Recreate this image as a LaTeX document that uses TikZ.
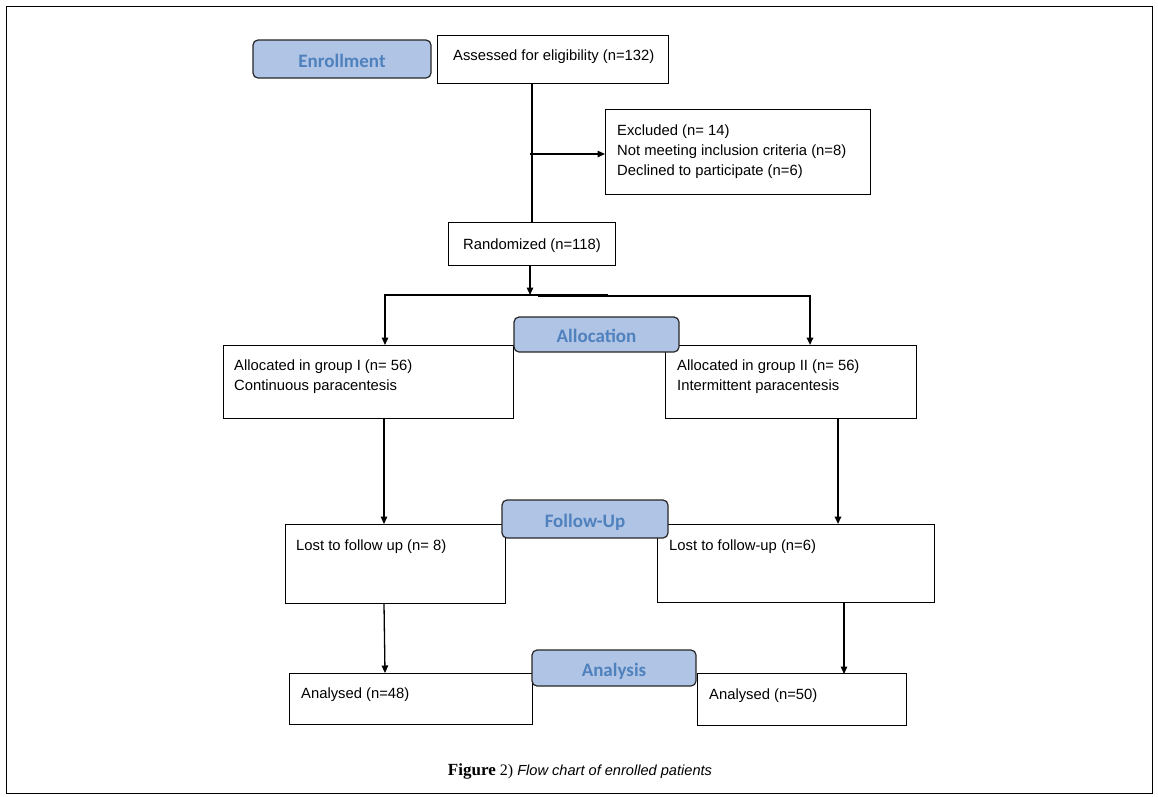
\documentclass[tikz,border=0pt]{standalone}
\usepackage{fontspec}
\setmainfont{Liberation Sans}
\newfontfamily\lblfont{Carlito}
\newfontfamily\capserif{Liberation Serif}
\usetikzlibrary{arrows.meta}
\definecolor{lblfill}{RGB}{176,196,230}
\definecolor{lbltext}{RGB}{79,129,189}
\begin{document}
\begin{tikzpicture}[x=1pt,y=-1pt,
  box/.style={draw, line width=1pt, inner sep=0, anchor=north west},
  txt/.style={anchor=west, inner sep=0, align=left, yshift=-2pt, font=\fontsize{14.8}{20}\selectfont},
  stage/.style={draw=black!85, fill=lblfill, rounded corners=5pt, line width=1.2pt,
     text=lbltext, font=\lblfont\bfseries\fontsize{19}{22}\selectfont, inner sep=0,
     text height=17pt, text depth=1pt},
  conn/.style={line width=1.3pt},
  arr/.style={conn, -{Triangle[length=7.5pt,width=6.5pt]}},
  thickarr/.style={line width=2.4pt, -{Triangle[length=7.5pt,width=6.5pt]}},
]
\useasboundingbox (0,0) rectangle (1158,796);
\draw[line width=1pt] (6,6) rectangle (1152,793);

% boxes
\node[box, minimum width=231, minimum height=48] (assess) at (437,35) {};
\node[txt] (assesst) at (453,55) {Assessed for eligibility (n=132)};
\node[box, minimum width=265, minimum height=85] (excl) at (605,109) {};
\node[txt] (exclt) at (617,150) {Excluded (n= 14)\\Not meeting inclusion criteria (n=8)\\Declined to participate (n=6)};
\node[box, minimum width=167, minimum height=43] (rand) at (448,222) {};
\node[txt] (randt) at (463,244) {Randomized (n=118)};
\node[box, minimum width=290, minimum height=73] (g1) at (223,345) {};
\node[txt] (g1t) at (234,375) {Allocated in group I (n= 56)\\Continuous paracentesis};
\node[box, minimum width=251, minimum height=73] (g2) at (665,345) {};
\node[txt] (g2t) at (677,375) {Allocated in group II (n= 56)\\Intermittent paracentesis};
\node[box, minimum width=220, minimum height=79] (lost1) at (285,524) {};
\node[txt] (lost1t) at (296,545) {Lost to follow up (n= 8)};
\node[box, minimum width=277, minimum height=78] (lost2) at (657,524) {};
\node[txt] (lost2t) at (669,545) {Lost to follow-up (n=6)};
\node[box, minimum width=243, minimum height=51] (an1) at (289,673) {};
\node[txt] (an1t) at (301,693) {Analysed (n=48)};
\node[box, minimum width=209, minimum height=52] (an2) at (697,673) {};
\node[txt] (an2t) at (709,694) {Analysed (n=50)};

% connectors
\coordinate (split) at (530,295);
\coordinate (La) at (385,295);
\coordinate (Lb) at (608,295);
\coordinate (Ra) at (538,296);
\coordinate (Rb) at (810,296);
\coordinate (c1) at (384,0);
\coordinate (c2) at (838,0);
\coordinate (c3) at (844,0);
\draw[conn] (rand.north |- assess.south) -- (rand.north);
\coordinate (exc) at (530,154);
\draw[arr] (exc) -- (excl.west |- exc);
\draw[arr] (rand.south -| split) -- (split);
\draw[arr] (Lb) -- (La) -- (La |- g1.north);
\draw[thickarr] (Ra) -- (Rb) -- (Rb |- g2.north);
\draw[arr] (g1.south -| c1) -- (lost1.north -| c1);
\draw[thickarr] (g2.south -| c2) -- (lost2.north -| c2);
\draw[arr] (lost1.south -| c1) -- ([xshift=1pt]an1.north -| c1);
\draw[arr] (lost2.south -| c3) -- ([yshift=-1pt]an2.north -| c3);

% stage labels
\node[stage, minimum width=178, minimum height=38] (enr) at (342,59) {Enrollment};
\node[stage, minimum width=165, minimum height=35] (alloc) at (596.5,334.5) {Allocation};
\node[stage, minimum width=166, minimum height=38] (fup) at (585,519) {Follow-Up};
\node[stage, minimum width=164, minimum height=36] (anl) at (614,668) {Analysis};

% caption
\node[inner sep=0, font=\fontsize{14.6}{16}\selectfont] (cap) at (580,771)
  {{\capserif\fontsize{17}{18}\selectfont\bfseries Figure} {\capserif\fontsize{16}{18}\selectfont 2)} \itshape Flow chart of enrolled patients};
\end{tikzpicture}
\end{document}
